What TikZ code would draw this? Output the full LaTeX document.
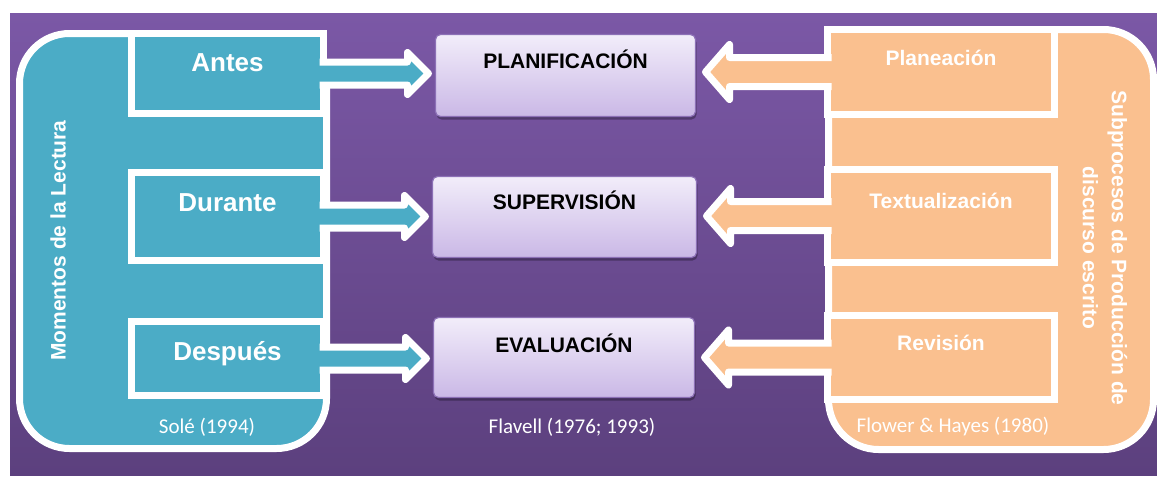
\documentclass[tikz,border=0pt]{standalone}
\usepackage{fontspec}
\setmainfont{Liberation Sans}
\newfontfamily\citefont{Carlito}
\usetikzlibrary{calc,shadows}
\definecolor{bgtop}{RGB}{123,88,166}
\definecolor{bgbot}{RGB}{92,64,126}
\definecolor{tealc}{RGB}{75,172,198}
\definecolor{orangec}{RGB}{250,192,143}
\definecolor{midtop}{RGB}{242,237,250}
\definecolor{midbot}{RGB}{202,184,230}
\definecolor{midborder}{RGB}{140,112,182}
\begin{document}
\begin{tikzpicture}[x=1pt,y=-1pt,
  panel/.style={rectangle, draw=white, line width=7pt, rounded corners=50pt, inner sep=0pt, outer sep=0pt},
  sidebox/.style={rectangle, draw=white, line width=7pt, inner sep=0pt, outer sep=0pt, text=white,
    drop shadow={shadow xshift=2pt, shadow yshift=-3pt, opacity=0.25, fill=black}},
  lbox/.style={sidebox, fill=tealc, minimum width=192pt, font=\fontsize{26}{30}\selectfont\bfseries, text height=18.6pt},
  rbox/.style={sidebox, fill=orangec, minimum width=227pt, font=\fontsize{21}{25}\selectfont\bfseries, text height=15pt},
  midbox/.style={rectangle, rounded corners=5pt, draw=midborder, line width=1.2pt, top color=midtop, bottom color=midbot,
    inner sep=0pt, outer sep=0pt, text=black, font=\fontsize{21}{25}\selectfont\bfseries, text height=15pt,
    drop shadow={shadow xshift=1pt, shadow yshift=-3pt, opacity=0.3, fill=black}},
  larrow/.style={draw=white, line width=7pt, line join=round, fill=tealc},
  rarrow/.style={draw=white, line width=7pt, line join=round, fill=orangec},
  vtext/.style={text=white, font=\fontsize{21}{29}\selectfont\bfseries, inner sep=0pt},
  cite/.style={text=white, font=\citefont\fontsize{21}{25}\selectfont, inner sep=0pt}
]
\useasboundingbox (0,0) rectangle (1157,479);
\fill[white] (0,0) rectangle (1157,479);
\fill[top color=bgtop, bottom color=bgbot] (10,13) rectangle (1157,475);

% containers
\node[panel, fill=tealc, minimum width=307pt, minimum height=415pt] (leftpanel) at (173,241) {};
\node[panel, fill=orangec, minimum width=325pt, minimum height=420pt] (rightpanel) at (991,239.5) {};

% left boxes
\node[lbox, minimum height=80pt, text depth=22pt] (antes) at (227.5,73.5) {Antes};
\node[lbox, minimum height=88pt, text depth=29pt] (durante) at (227.5,216.5) {Durante};
\node[lbox, minimum height=74pt, text depth=14pt] (despues) at (227.5,358.5) {Después};

% right boxes
\node[rbox, minimum height=85pt, text depth=29pt] (planea) at (941,72) {Planeación};
\node[rbox, minimum height=93pt, text depth=31pt] (textu) at (941,216) {Textualización};
\node[rbox, minimum height=84pt, text depth=30pt] (revis) at (941,357.5) {Revisión};

% middle boxes
\node[midbox, minimum width=260pt, minimum height=82pt, text depth=30pt] (plan) at (565.5,75.5) {PLANIFICACIÓN};
\node[midbox, minimum width=264pt, minimum height=81pt, text depth=30pt] (super) at (564.5,217) {SUPERVISIÓN};
\node[midbox, minimum width=261pt, minimum height=80pt, text depth=26pt] (eval) at (564,357.5) {EVALUACIÓN};

% left arrows
\foreach \b/\t in {antes/plan, durante/super, despues/eval}{
  \draw[larrow] ($(\b.east)+(-4,-11.5)$) -- ($(\t.west|-\b.east)+(-28,-11.5)$)
    -- ($(\t.west|-\b.east)+(-28,-21)$) -- ($(\t.west|-\b.east)+(-7,0)$)
    -- ($(\t.west|-\b.east)+(-28,21)$) -- ($(\t.west|-\b.east)+(-28,11.5)$)
    -- ($(\b.east)+(-4,11.5)$);
}
% right arrows
\foreach \b/\t in {planea/plan, textu/super, revis/eval}{
  \draw[rarrow] ($(\b.west)+(4,-14.5)$) -- ($(\t.east|-\b.west)+(34,-14.5)$)
    -- ($(\t.east|-\b.west)+(34,-27.5)$) -- ($(\t.east|-\b.west)+(10,0)$)
    -- ($(\t.east|-\b.west)+(34,27.5)$) -- ($(\t.east|-\b.west)+(34,14.5)$)
    -- ($(\b.west)+(4,14.5)$);
}

% vertical texts
\node[vtext, rotate=90] (momentos) at (58,240.5) {Momentos de la Lectura};
\node[vtext, rotate=-90, align=center] (subproc) at (1105,248) {Subprocesos de Producción de\\discurso escrito};

% citations
\node[cite] (sole) at (207,427) {Solé (1994)};
\node[cite] (flavell) at (572,427) {Flavell (1976; 1993)};
\node[cite] (flower) at (953,427) {Flower \& Hayes (1980)};
\end{tikzpicture}
\end{document}
